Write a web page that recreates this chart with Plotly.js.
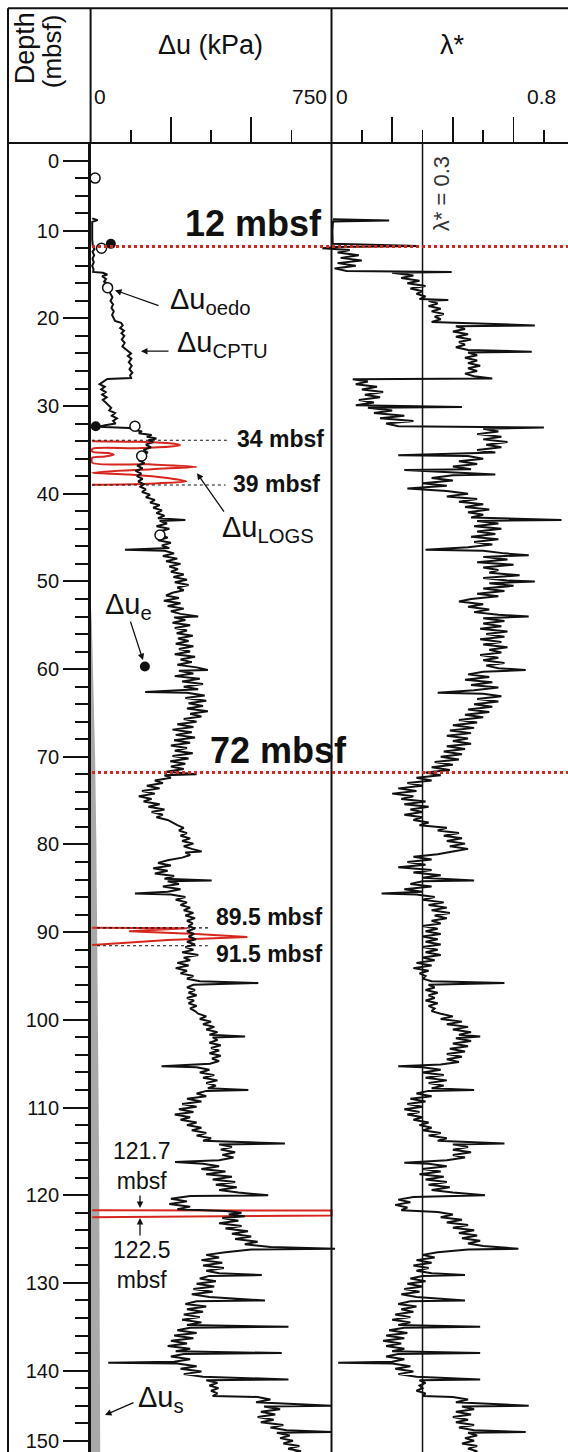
<!DOCTYPE html>
<html><head><meta charset="utf-8">
<script src="https://cdn.plot.ly/plotly-3.0.1.min.js"></script>
<style>html,body{margin:0;padding:0;background:#fff;overflow:hidden}#chart{width:568px;height:1452px}</style>
</head><body><div id="chart"></div>
<script>
// ---------- data (depth in mbsf, value) ----------
const cptuDu = [[8.6,5],[8.8,22],[9.0,5],[10,4],[11,5],[11.8,7],[12.1,12],[12.4,6],[12.8,11],[13.2,6],[13.6,10],[14.0,5],[14.4,9],[14.7,8],[14.8,38],[15.0,52],[15.2,36],[15.5,48],[15.8,42],[16.1,58],[16.4,50],[16.8,56],[17.2,62],[17.6,68],[18.0,62],[18.4,70],[18.8,65],[19.2,72],[19.6,67],[20.0,73],[20.3,76],[20.5,95],[20.8,100],[21.1,92],[21.4,104],[21.7,96],[22.0,105],[22.4,97],[22.8,106],[23.2,99],[23.5,110],[23.7,118],[24.0,126],[24.3,116],[24.6,127],[25.0,119],[25.4,128],[25.8,121],[26.2,130],[26.5,123],[26.8,126],[26.9,52],[27.2,40],[27.5,28],[27.8,44],[28.1,33],[28.4,47],[28.7,36],[29.0,50],[29.3,38],[29.6,47],[29.9,56],[30.2,64],[30.5,58],[30.8,76],[31.1,66],[31.4,82],[31.7,70],[32.0,78],[32.2,45],[32.35,25],[32.5,120],[32.7,135],[32.9,160],[33.1,150],[33.3,190],[33.5,175],[33.7,205],[33.9,180],[34.1,195],[34.4,172],[34.7,188],[35.0,165],[35.3,178],[35.6,158],[35.9,172],[36.2,150],[36.5,168],[36.8,145],[37.1,162],[37.4,140],[37.7,158],[38.0,144],[38.3,162],[38.6,148],[38.9,166],[39.2,155],[39.5,172],[39.8,160],[40.1,185],[40.4,172],[40.7,200],[41.0,185],[41.3,215],[41.6,195],[41.9,222],[42.2,205],[42.5,230],[42.8,210],[43.0,295],[43.1,215],[43.4,238],[43.7,205],[44.0,245],[44.3,215],[44.7,218],[45.0,240],[45.3,210],[45.6,250],[45.9,222],[46.2,245],[46.4,107],[46.5,230],[46.8,260],[47.1,225],[47.4,270],[47.7,235],[48.0,280],[48.3,245],[48.6,272],[48.9,250],[49.2,290],[49.5,258],[49.8,300],[50.1,262],[50.4,305],[50.7,270],[51.0,290],[51.3,255],[51.6,235],[51.9,275],[52.2,228],[52.5,280],[52.8,240],[53.1,290],[53.4,250],[53.7,280],[54.0,335],[54.1,260],[54.4,295],[54.7,255],[55.0,310],[55.3,262],[55.6,300],[55.9,268],[56.2,318],[56.5,272],[56.8,305],[57.1,265],[57.4,320],[57.7,275],[58.0,310],[58.3,262],[58.6,325],[58.9,280],[59.2,315],[59.5,270],[59.8,330],[60.1,365],[60.2,275],[60.5,320],[60.8,262],[61.1,340],[61.4,285],[61.7,350],[62.0,290],[62.3,335],[62.6,170],[62.7,300],[63.0,355],[63.3,295],[63.6,360],[63.9,305],[64.2,350],[64.5,300],[64.8,365],[65.1,310],[65.4,345],[65.7,290],[66.0,330],[66.3,270],[66.6,320],[66.9,255],[67.2,315],[67.5,265],[67.8,325],[68.1,260],[68.4,310],[68.7,250],[69.0,300],[69.3,262],[69.6,318],[69.9,255],[70.2,305],[70.5,248],[70.8,295],[71.1,250],[71.4,290],[71.7,235],[72.0,330],[72.1,230],[72.4,250],[72.7,200],[73.0,225],[73.3,175],[73.6,215],[73.9,160],[74.2,200],[74.5,150],[74.8,190],[75.1,165],[75.4,215],[75.7,180],[76.0,230],[76.3,190],[76.6,225],[76.9,205],[77.2,240],[77.5,255],[77.8,270],[78.1,290],[78.4,275],[78.7,300],[79.0,280],[79.3,310],[79.6,285],[79.9,320],[80.2,290],[80.5,315],[80.8,346],[80.9,295],[81.2,310],[81.5,285],[81.8,240],[82.1,210],[82.4,250],[82.7,195],[83.0,240],[83.3,200],[83.6,260],[83.9,230],[84.1,377],[84.2,240],[84.5,275],[84.8,225],[85.1,280],[85.4,240],[85.6,138],[85.7,250],[86.0,295],[86.3,265],[86.6,300],[86.9,280],[87.2,310],[87.5,290],[87.8,320],[88.1,295],[88.4,325],[88.7,300],[89.0,318],[89.3,305],[89.6,325],[89.9,300],[90.2,322],[90.5,305],[90.8,328],[91.1,300],[91.4,325],[91.7,295],[92.0,320],[92.3,285],[92.6,335],[92.9,290],[93.2,310],[93.5,270],[93.8,305],[94.1,265],[94.4,300],[94.7,280],[95.0,320],[95.3,300],[95.6,340],[95.8,522],[96.0,320],[96.3,300],[96.6,325],[96.9,305],[97.2,330],[97.5,300],[97.8,322],[98.1,305],[98.4,330],[98.7,310],[99.0,325],[99.3,335],[99.6,360],[99.9,340],[100.2,375],[100.5,350],[100.8,385],[101.1,360],[101.4,395],[101.7,370],[101.9,481],[102.0,380],[102.3,395],[102.6,370],[102.9,405],[103.2,375],[103.5,400],[103.8,370],[104.1,405],[104.4,378],[104.7,400],[105.0,372],[105.3,221],[105.4,330],[105.7,370],[106.0,340],[106.3,385],[106.6,350],[106.9,395],[107.2,360],[107.5,390],[107.8,365],[108.0,491],[108.1,360],[108.4,330],[108.7,360],[109.0,300],[109.3,345],[109.6,285],[109.9,330],[110.2,275],[110.5,320],[110.8,262],[111.1,310],[111.4,280],[111.7,330],[112.0,300],[112.3,345],[112.6,315],[112.9,360],[113.2,330],[113.5,375],[113.8,350],[114.1,605],[114.2,400],[114.5,440],[114.8,405],[115.1,450],[115.4,410],[115.7,445],[116.0,400],[116.2,263],[116.4,350],[116.7,400],[117.0,345],[117.3,420],[117.6,360],[117.9,440],[118.2,380],[118.5,450],[118.8,390],[119.1,455],[119.4,400],[119.7,460],[120.0,553],[120.1,310],[120.4,250],[120.7,300],[121.0,245],[121.3,310],[121.6,270],[121.8,420],[122.0,470],[122.2,430],[122.4,480],[122.6,410],[122.9,460],[123.2,400],[123.5,470],[123.8,420],[124.1,490],[124.4,440],[124.7,500],[125.0,450],[125.3,520],[125.6,480],[125.9,560],[126.1,761],[126.2,500],[126.5,420],[126.8,360],[127.1,400],[127.4,345],[127.7,410],[128.0,350],[128.3,415],[128.6,360],[128.9,400],[129.1,533],[129.2,370],[129.5,340],[129.8,390],[130.1,330],[130.4,385],[130.7,320],[131.0,380],[131.3,315],[131.6,370],[132.0,543],[132.1,330],[132.4,295],[132.7,360],[133.0,300],[133.3,350],[133.6,290],[133.9,340],[134.2,285],[134.5,345],[134.8,300],[135.0,616],[135.1,310],[135.4,270],[135.7,330],[136.0,260],[136.3,320],[136.6,250],[136.9,300],[137.2,240],[137.5,310],[137.8,265],[138.0,595],[138.1,290],[138.4,250],[138.7,310],[139.0,260],[139.1,55],[139.2,270],[139.5,330],[139.8,280],[140.1,345],[140.4,290],[140.7,350],[141.0,616],[141.1,360],[141.4,395],[141.7,370],[142.0,398],[142.3,375],[142.6,395],[142.9,380],[143.0,520],[143.3,560],[143.6,515],[144.0,750],[144.1,540],[144.4,590],[144.7,530],[145.0,575],[145.3,520],[145.6,570],[145.9,530],[146.2,600],[146.5,560],[146.8,610],[147.0,750],[147.1,580],[147.4,620],[147.7,590],[148.0,630],[148.3,600],[148.6,650],[148.9,615],[149.2,655],[149.5,620]];

const lambdaStar = [[8.7,0.005],[8.85,0.19],[8.95,0.005],[10,0.003],[11.5,0.004],[11.75,0.286],[11.85,0.02],[12.0,-0.03],[12.2,0.06],[12.5,0.02],[12.8,0.09],[13.1,0.03],[13.4,0.1],[13.7,0.02],[14.0,0.08],[14.3,0.01],[14.6,0.05],[14.7,0.396],[14.8,0.2],[15.1,0.27],[15.4,0.23],[15.7,0.29],[16.0,0.25],[16.3,0.31],[16.6,0.26],[16.9,0.3],[17.2,0.28],[17.5,0.31],[17.8,0.29],[17.9,0.385],[18.0,0.32],[18.3,0.35],[18.6,0.32],[18.9,0.36],[19.2,0.33],[19.5,0.37],[19.8,0.34],[20.1,0.36],[20.4,0.33],[20.8,0.67],[20.9,0.41],[21.2,0.44],[21.5,0.4],[21.8,0.45],[22.1,0.41],[22.4,0.46],[22.7,0.42],[23.0,0.44],[23.3,0.41],[23.6,0.45],[23.8,0.66],[23.9,0.45],[24.2,0.48],[24.5,0.44],[24.8,0.48],[25.1,0.45],[25.4,0.49],[25.7,0.45],[26.0,0.48],[26.3,0.44],[26.6,0.47],[26.85,0.53],[26.95,0.07],[27.2,0.12],[27.5,0.08],[27.8,0.15],[28.1,0.1],[28.4,0.17],[28.7,0.11],[29.0,0.16],[29.3,0.09],[29.6,0.14],[29.9,0.08],[30.1,0.43],[30.2,0.12],[30.5,0.2],[30.8,0.14],[31.1,0.24],[31.4,0.16],[31.7,0.27],[32.0,0.18],[32.3,0.22],[32.45,0.7],[32.6,0.5],[32.9,0.55],[33.2,0.48],[33.5,0.56],[33.8,0.5],[34.1,0.58],[34.4,0.51],[34.7,0.56],[35.0,0.48],[35.3,0.54],[35.6,0.22],[35.7,0.45],[36.0,0.5],[36.3,0.42],[36.6,0.48],[36.9,0.4],[37.2,0.46],[37.3,0.24],[37.5,0.38],[37.8,0.54],[37.9,0.4],[38.2,0.33],[38.5,0.4],[38.8,0.3],[39.1,0.38],[39.4,0.25],[39.7,0.38],[40.0,0.45],[40.3,0.38],[40.6,0.48],[40.9,0.42],[41.2,0.5],[41.5,0.44],[41.8,0.52],[42.1,0.45],[42.4,0.5],[42.7,0.46],[43.0,0.758],[43.1,0.48],[43.4,0.55],[43.7,0.47],[44.0,0.56],[44.3,0.48],[44.6,0.54],[44.9,0.46],[45.2,0.55],[45.5,0.47],[45.8,0.53],[46.1,0.45],[46.4,0.31],[46.5,0.5],[46.8,0.57],[47.0,0.65],[47.2,0.5],[47.5,0.58],[47.8,0.48],[48.1,0.6],[48.4,0.5],[48.7,0.55],[49.0,0.52],[49.3,0.62],[49.6,0.5],[49.9,0.58],[50.0,0.67],[50.2,0.52],[50.5,0.6],[50.8,0.5],[51.1,0.57],[51.4,0.48],[51.7,0.55],[52.0,0.46],[52.3,0.42],[52.6,0.5],[52.9,0.45],[53.2,0.52],[53.5,0.47],[53.8,0.55],[54.0,0.65],[54.2,0.5],[54.5,0.57],[54.8,0.5],[55.1,0.56],[55.4,0.49],[55.7,0.58],[56.0,0.51],[56.3,0.57],[56.6,0.49],[56.9,0.56],[57.2,0.5],[57.5,0.58],[57.8,0.52],[58.1,0.56],[58.4,0.49],[58.7,0.55],[59.0,0.5],[59.3,0.57],[59.6,0.51],[59.9,0.55],[60.1,0.64],[60.3,0.5],[60.6,0.45],[60.9,0.52],[61.2,0.44],[61.5,0.53],[61.8,0.46],[62.1,0.55],[62.4,0.47],[62.7,0.35],[62.8,0.5],[63.1,0.56],[63.4,0.48],[63.7,0.55],[64.0,0.47],[64.3,0.53],[64.6,0.45],[64.9,0.52],[65.2,0.44],[65.5,0.5],[65.8,0.42],[66.1,0.48],[66.4,0.4],[66.7,0.47],[67.0,0.39],[67.3,0.46],[67.6,0.38],[67.9,0.45],[68.2,0.4],[68.5,0.46],[68.8,0.38],[69.1,0.44],[69.4,0.37],[69.7,0.43],[70.0,0.36],[70.3,0.42],[70.6,0.34],[70.9,0.4],[71.2,0.33],[71.5,0.39],[71.8,0.31],[72.1,0.36],[72.4,0.28],[72.7,0.33],[73.0,0.25],[73.3,0.3],[73.6,0.22],[73.9,0.28],[74.2,0.2],[74.5,0.27],[74.8,0.23],[75.1,0.31],[75.4,0.24],[75.7,0.32],[76.0,0.26],[76.3,0.3],[76.6,0.24],[76.9,0.3],[77.2,0.27],[77.5,0.32],[77.8,0.29],[78.1,0.38],[78.4,0.35],[78.7,0.42],[79.0,0.37],[79.3,0.43],[79.6,0.38],[79.9,0.44],[80.2,0.39],[80.5,0.45],[80.8,0.4],[81.1,0.35],[81.4,0.27],[81.7,0.33],[82.0,0.25],[82.3,0.31],[82.6,0.22],[82.9,0.33],[83.2,0.27],[83.5,0.36],[83.8,0.3],[84.1,0.47],[84.2,0.3],[84.5,0.26],[84.8,0.33],[85.1,0.24],[85.4,0.3],[85.6,0.165],[85.7,0.28],[86.0,0.34],[86.3,0.3],[86.6,0.37],[86.9,0.32],[87.2,0.38],[87.5,0.33],[87.8,0.39],[88.1,0.34],[88.4,0.38],[88.7,0.33],[89.0,0.36],[89.3,0.3],[89.6,0.35],[89.9,0.31],[90.2,0.36],[90.5,0.3],[90.8,0.35],[91.1,0.31],[91.4,0.36],[91.7,0.3],[92.0,0.35],[92.3,0.31],[92.6,0.36],[92.9,0.3],[93.2,0.34],[93.5,0.28],[93.8,0.33],[94.1,0.27],[94.4,0.32],[94.7,0.29],[95.0,0.31],[95.3,0.3],[95.6,0.33],[95.8,0.57],[96.0,0.32],[96.3,0.34],[96.6,0.31],[96.9,0.35],[97.2,0.32],[97.5,0.34],[97.8,0.31],[98.1,0.35],[98.4,0.32],[98.7,0.34],[99.0,0.33],[99.3,0.36],[99.6,0.4],[99.9,0.36],[100.2,0.43],[100.5,0.38],[100.8,0.45],[101.1,0.4],[101.4,0.46],[101.7,0.42],[101.9,0.49],[102.1,0.41],[102.4,0.46],[102.7,0.4],[103.0,0.45],[103.3,0.39],[103.6,0.44],[103.9,0.38],[104.2,0.43],[104.5,0.38],[104.8,0.42],[105.1,0.36],[105.3,0.22],[105.4,0.3],[105.7,0.36],[106.0,0.3],[106.3,0.37],[106.6,0.31],[106.9,0.38],[107.2,0.32],[107.5,0.37],[107.8,0.33],[108.0,0.47],[108.1,0.32],[108.4,0.28],[108.7,0.33],[109.0,0.26],[109.3,0.31],[109.6,0.25],[109.9,0.3],[110.2,0.24],[110.5,0.29],[110.8,0.25],[111.1,0.3],[111.4,0.27],[111.7,0.32],[112.0,0.29],[112.3,0.33],[112.6,0.3],[112.9,0.36],[113.2,0.32],[113.5,0.38],[113.8,0.35],[114.1,0.57],[114.2,0.4],[114.5,0.45],[114.8,0.4],[115.1,0.46],[115.4,0.4],[115.7,0.44],[116.0,0.38],[116.3,0.24],[116.4,0.32],[116.7,0.38],[117.0,0.3],[117.3,0.36],[117.6,0.29],[117.9,0.37],[118.2,0.31],[118.5,0.38],[118.8,0.32],[119.1,0.39],[119.4,0.33],[119.7,0.4],[120.0,0.506],[120.2,0.27],[120.5,0.22],[120.8,0.26],[121.1,0.21],[121.4,0.25],[121.7,0.23],[121.9,0.35],[122.2,0.4],[122.5,0.36],[122.8,0.43],[123.1,0.38],[123.4,0.45],[123.7,0.4],[124.0,0.47],[124.3,0.42],[124.6,0.48],[124.9,0.43],[125.2,0.49],[125.5,0.45],[125.8,0.5],[126.1,0.616],[126.2,0.45],[126.5,0.35],[126.8,0.3],[127.1,0.34],[127.4,0.28],[127.7,0.33],[128.0,0.27],[128.3,0.32],[128.6,0.28],[128.9,0.33],[129.1,0.44],[129.2,0.3],[129.5,0.26],[129.8,0.31],[130.1,0.25],[130.4,0.3],[130.7,0.24],[131.0,0.29],[131.3,0.23],[131.6,0.28],[132.0,0.44],[132.1,0.26],[132.4,0.22],[132.7,0.28],[133.0,0.23],[133.3,0.27],[133.6,0.21],[133.9,0.26],[134.2,0.2],[134.5,0.26],[134.8,0.22],[135.0,0.49],[135.1,0.24],[135.4,0.19],[135.7,0.25],[136.0,0.18],[136.3,0.24],[136.6,0.17],[136.9,0.23],[137.2,0.18],[137.5,0.24],[137.8,0.2],[138.0,0.49],[138.1,0.22],[138.4,0.18],[138.7,0.24],[139.0,0.2],[139.1,0.022],[139.2,0.2],[139.5,0.26],[139.8,0.21],[140.1,0.27],[140.4,0.22],[140.7,0.28],[141.0,0.49],[141.1,0.29],[141.4,0.31],[141.7,0.29],[142.0,0.3],[142.3,0.28],[142.6,0.31],[142.9,0.3],[143.0,0.4],[143.3,0.45],[143.6,0.41],[144.0,0.65],[144.1,0.43],[144.4,0.47],[144.7,0.41],[145.0,0.46],[145.3,0.4],[145.6,0.45],[145.9,0.41],[146.2,0.47],[146.5,0.42],[146.8,0.47],[147.0,0.64],[147.1,0.45],[147.4,0.48],[147.7,0.44],[148.0,0.47],[148.3,0.43],[148.6,0.48],[148.9,0.45],[149.2,0.48],[149.5,0.46]];

// Δu_LOGS excursions (depth, kPa)
const logsA = [[34.0,5],[34.08,150],[34.3,260],[34.46,278],[34.62,250],[34.8,140],[34.88,5],[35.2,5],[35.35,55],[35.55,72],[35.75,45],[35.9,5],[36.45,5],[36.65,180],[36.93,330],[37.2,190],[37.6,5],[37.8,120],[38.2,240],[38.6,298],[38.85,180],[38.98,5]];
const logsB = [[89.5,5],[89.55,300],[89.88,120],[90.2,330],[90.55,488],[90.9,240],[91.45,5]];
const logsC = [[121.7,5],[121.74,750],[122.0,750],[122.3,750],[122.5,5]];
// Δu_s band
const usDepth = [0,52,55,60,70,80,90,100,110,120,130,140,150];
const usVal   = [0,0,4,8,14,18,21,23,25,27,28,29,30];
// Δu_oedo (open) and filled points
const oedoDepth = [4.0,12.0,16.5,32.3,35.7,44.7];
const oedoDu    = [14,34,53,138,159,216];
const fillDepth = [11.5,32.3,59.7];
const fillDu    = [63,16,169];
// depth tick labels
const depthTickVals = [2,10,20,30,40,50,60,70,80,90,100,110,120,130,140,148];
const depthTickText = ['0','10','20','30','40','50','60','70','80','90','100','110','120','130','140','150'];
const depthMinor = [4,6,8,12,14,16,18,22,24,26,28,32,34,36,38,42,44,46,48,52,54,56,58,62,64,66,68,72,74,76,78,82,84,86,88,92,94,96,98,102,104,106,108,112,114,116,118,122,124,126,128,132,134,136,138,142,144,146];

// ---------- geometry ----------
const W=568, H=1452, TOP=142.8;
const px = x => x/W;
const py = y => (H-y)/(H-TOP);
const DEPTH_BOTTOM = (H-TOP)/8.77;
const FONT = 'Liberation Sans, Arial, sans-serif';
const RED = '#d7261e';
const INK = '#111';

const xy = arr => ({x: arr.map(p=>p[1]), y: arr.map(p=>p[0])});

const traces = [
  {x: usVal, y: usDepth, type:'scatter', mode:'lines', fill:'tozerox', fillcolor:'#a9a9a9', line:{width:0, color:'#a9a9a9'}, xaxis:'x', yaxis:'y', hoverinfo:'skip'},
  Object.assign(xy(logsA), {type:'scatter', mode:'lines', line:{color:RED, width:2, shape:'spline', smoothing:0.8}, xaxis:'x', yaxis:'y'}),
  Object.assign(xy(logsB), {type:'scatter', mode:'lines', line:{color:RED, width:2}, xaxis:'x', yaxis:'y'}),
  Object.assign(xy(logsC), {type:'scatter', mode:'lines', line:{color:RED, width:2}, xaxis:'x', yaxis:'y'}),
  Object.assign(xy(cptuDu), {type:'scatter', mode:'lines', line:{color:INK, width:2}, xaxis:'x', yaxis:'y'}),
  {x: oedoDu, y: oedoDepth, type:'scatter', mode:'markers', marker:{symbol:'circle', size:10, color:'#fff', line:{color:INK, width:1.5}}, xaxis:'x', yaxis:'y'},
  {x: fillDu, y: fillDepth, type:'scatter', mode:'markers', marker:{symbol:'circle', size:10, color:INK}, xaxis:'x', yaxis:'y'},
  Object.assign(xy(lambdaStar), {type:'scatter', mode:'lines', line:{color:INK, width:2}, xaxis:'x2', yaxis:'y'})
];

const line = (x0,y0,x1,y1,w,extra) => Object.assign({type:'line', xref:'paper', yref:'paper', x0:px(x0), y0:py(y0), x1:px(x1), y1:py(y1), line:{color:INK, width:w}}, extra||{});

const shapes = [
  line(8,8,568,8,2),
  line(8,8,8,H,2),
  line(8,TOP,568,TOP,2),
  line(90.6,8,90.6,TOP,2),
  line(331.5,8,331.5,H,2),
  {type:'line', xref:'x2', yref:'paper', x0:0.3, x1:0.3, y0:0, y1:1, line:{color:INK, width:1.5}},
  {type:'line', xref:'paper', yref:'y', x0:px(92), x1:1, y0:11.8, y1:11.8, line:{color:RED, width:3, dash:'dot'}},
  {type:'line', xref:'paper', yref:'y', x0:px(92), x1:1, y0:71.8, y1:71.8, line:{color:RED, width:3, dash:'dot'}},
  {type:'line', xref:'x', yref:'y', x0:4, x1:424, y0:33.9, y1:33.9, line:{color:INK, width:1.2, dash:'dot'}},
  {type:'line', xref:'x', yref:'y', x0:4, x1:420, y0:39.0, y1:39.0, line:{color:INK, width:1.2, dash:'dot'}},
  {type:'line', xref:'x', yref:'y', x0:20, x1:372, y0:89.5, y1:89.5, line:{color:INK, width:1.2, dash:'dot'}},
  {type:'line', xref:'x', yref:'y', x0:20, x1:365, y0:91.55, y1:91.55, line:{color:INK, width:1.2, dash:'dot'}}
];

const txt = (text, xc, yc, size, extra) => Object.assign({text, xref:'paper', yref:'paper', x:px(xc), y:py(yc), showarrow:false, font:{family:FONT, size, color:INK}, xanchor:'center', yanchor:'middle'}, extra||{});
const arrow = (hx,hy,tx,ty) => ({text:'', xref:'paper', yref:'paper', x:px(hx), y:py(hy), ax:tx-hx, ay:ty-hy, showarrow:true, arrowhead:2, arrowsize:1, arrowwidth:1.3, arrowcolor:INK, standoff:0});

const annotations = [
  txt('Depth', 25, 86, 27, {textangle:-90, yanchor:'bottom'}),
  txt('(mbsf)', 52, 90, 26, {textangle:-90, yanchor:'bottom'}),
  txt('Δu (kPa)', 210, 45, 27),
  txt('0', 92, 96, 21, {xanchor:'left'}),
  txt('750', 329, 96, 21, {xanchor:'right'}),
  txt('λ*', 452, 45, 27),
  txt('0', 334, 96, 21, {xanchor:'left'}),
  txt('0.8', 558, 96, 21, {xanchor:'right'}),
  txt('<b>12 mbsf</b>', 253, 223, 36),
  txt('<b>72 mbsf</b>', 278, 750, 36),
  txt('<b>34 mbsf</b>', 280, 439, 23),
  txt('<b>39 mbsf</b>', 276, 484, 23),
  txt('<b>89.5 mbsf</b>', 269, 917, 23),
  txt('<b>91.5 mbsf</b>', 269, 954, 23),
  txt('Δu<sub>oedo</sub>', 168, 301, 29, {xanchor:'left'}),
  txt('Δu<sub>CPTU</sub>', 175, 344, 29, {xanchor:'left'}),
  txt('Δu<sub>LOGS</sub>', 220, 529, 29, {xanchor:'left'}),
  txt('Δu<sub>e</sub>', 103, 606, 29, {xanchor:'left'}),
  txt('Δu<sub>s</sub>', 136, 1399, 29, {xanchor:'left'}),
  txt('121.7<br>mbsf', 142, 1166, 23),
  txt('122.5<br>mbsf', 142, 1265, 23),
  txt('λ* = 0.3', 441, 194, 22, {textangle:-90, font:{family:FONT, size:22, color:'#333'}}),
  arrow(115,290,160,306),
  arrow(141,351,170,351),
  arrow(197,473,225,513),
  arrow(143,660,130,620),
  arrow(140,1208,140,1194),
  arrow(140,1218,140,1237),
  arrow(105,1415,135,1402)
];

const layout = {
  width:W, height:H, margin:{l:0, r:0, t:TOP, b:0, pad:0},
  paper_bgcolor:'#fff', plot_bgcolor:'rgba(0,0,0,0)', showlegend:false,
  xaxis:{domain:[px(90.6), px(345)], range:[0, (345-90.6)*750/240.9], side:'top', anchor:'y', showgrid:false, zeroline:false, showline:false,
         tickmode:'array', tickvals:[250,500], ticks:'outside', ticklen:25, tickwidth:1.5, tickcolor:INK, showticklabels:false,
         minor:{tickmode:'array', tickvals:[125,375,625], ticks:'outside', ticklen:12, tickwidth:1.5, tickcolor:INK, showgrid:false}},
  xaxis2:{domain:[px(315), 1], range:[(315-331.5)/303.4, (568-331.5)/303.4], side:'top', anchor:'y', showgrid:false, zeroline:false, showline:false,
         tickmode:'array', tickvals:[0.2,0.4,0.6], ticks:'outside', ticklen:25, tickwidth:1.5, tickcolor:INK, showticklabels:false,
         minor:{tickmode:'array', tickvals:[0.1,0.3,0.5,0.7], ticks:'outside', ticklen:12, tickwidth:1.5, tickcolor:INK, showgrid:false}},
  yaxis:{domain:[0,1], range:[DEPTH_BOTTOM, 0], anchor:'x', side:'left', showgrid:false, zeroline:false, showline:true, linewidth:2.5, linecolor:INK,
         tickmode:'array', tickvals:depthTickVals, ticktext:depthTickText, ticks:'outside', ticklen:25, tickwidth:2, tickcolor:INK,
         tickfont:{family:FONT, size:20, color:INK},
         minor:{tickmode:'array', tickvals:depthMinor, ticks:'outside', ticklen:13, tickwidth:2, tickcolor:INK, showgrid:false}},
  shapes, annotations
};

Plotly.newPlot('chart', traces, layout, {staticPlot:true, displayModeBar:false});
</script></body></html>
